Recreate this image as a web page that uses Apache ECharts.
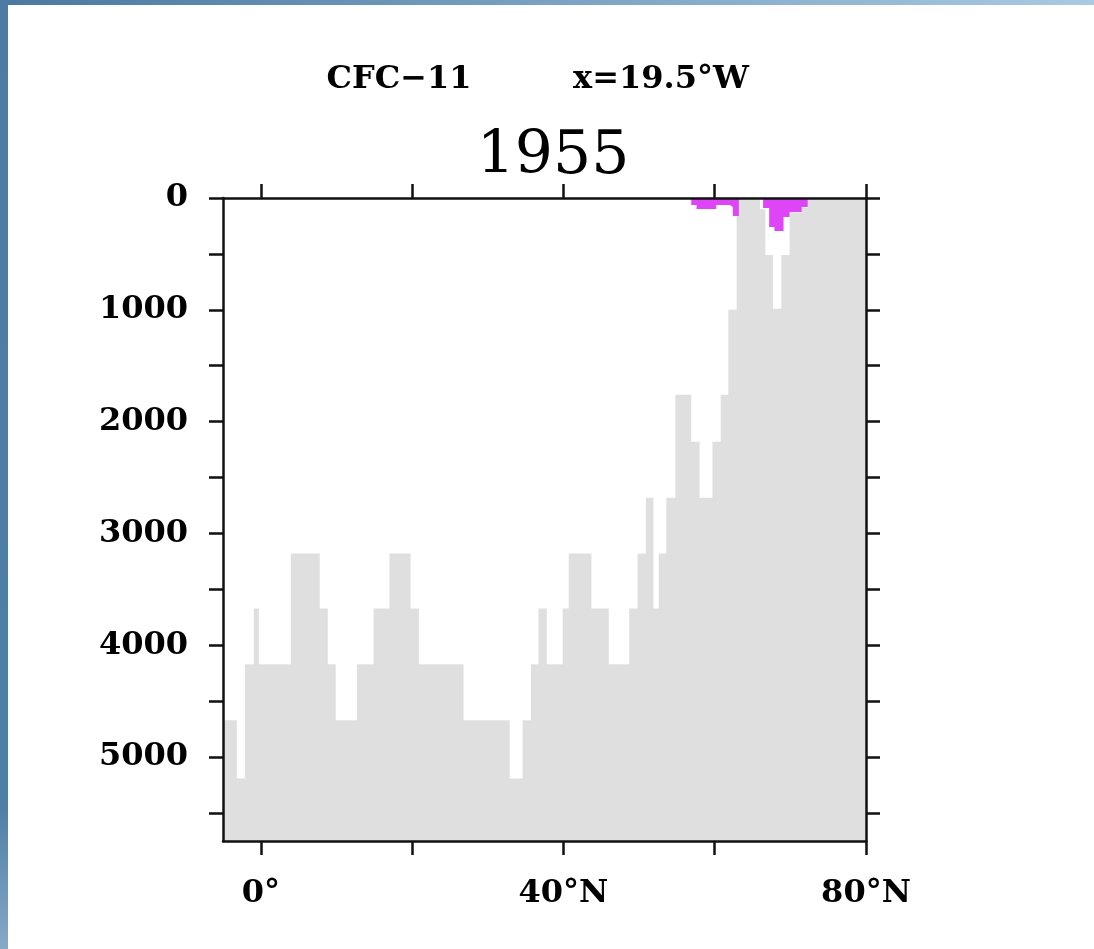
<!DOCTYPE html>
<html>
<head>
<meta charset="utf-8">
<script src="https://cdn.jsdelivr.net/npm/echarts@6/dist/echarts.min.js"></script>
<style>
  html, body { margin: 0; padding: 0; background: #fff; }
  #chart { width: 1094px; height: 949px; }
</style>
</head>
<body>
<div id="chart"></div>
<script>
// section along x=19.5W, latitude in degrees north, depth in metres
var floorLat = [-5, -3.17, -2.11, -0.92, -0.26, 3.96, 7.79, 8.85, 9.9, 12.7,
  14.9, 17.0, 19.8, 20.9, 26.8, 32.9, 34.6, 35.7, 36.7, 37.8,
  39.9, 40.7, 43.7, 46.0, 48.7, 49.8, 50.9, 51.9, 52.6, 53.6,
  54.8, 56.9, 58.0, 59.7, 60.8, 61.8, 62.9, 63.2, 66.0, 66.7,
  67.7, 68.8, 69.9, 71.5, 72.3];
var floorDepth = [4670, 5190, 4170, 3670, 4170, 3180, 3670, 4170, 4670, 4170,
  3670, 3180, 3670, 4170, 4670, 5190, 4670, 4170, 3670, 4170,
  3670, 3180, 3670, 4170, 3670, 3180, 2680, 3670, 3180, 2680,
  1760, 2180, 2680, 2180, 1760, 1000, 160, 0, 100, 510,
  990, 510, 130, 90, 0];

// CFC-11 penetration depth (coloured patch from the surface down)
var cfcLat = [-5, 56.9, 57.6, 60.2, 62.0, 62.4, 63.2, 66.4, 67.2, 67.9, 69.1, 69.9, 71.5, 72.3];
var cfcDepth = [0, 63, 98, 63, 80, 160, 0, 89, 260, 295, 170, 125, 80, 0];

var latTicks = [0, 20, 40, 60, 80];
var latLabels = [0, 40, 80];
var depthTicks = [0, 500, 1000, 1500, 2000, 2500, 3000, 3500, 4000, 4500, 5000, 5500];
var depthLabels = [0, 1000, 2000, 3000, 4000, 5000];

function stepData(xs, ys, xEnd) {
  var out = xs.map(function (x, i) { return [x, ys[i]]; });
  out.push([xEnd, ys[ys.length - 1]]);
  return out;
}

var chart = echarts.init(document.getElementById('chart'));

var labelFont = {
  color: '#000',
  fontFamily: 'DejaVu Serif',
  fontWeight: 'bold',
  fontSize: 32
};
var axisLine = { show: true, onZero: false, lineStyle: { color: '#111', width: 2.5 } };
var tickStyle = { color: '#111', width: 2.5 };

var option = {
  backgroundColor: '#fff',
  animation: false,
  grid: { left: 223, top: 198, width: 643, height: 643, containLabel: false },
  xAxis: [{
    type: 'value', position: 'bottom', min: -5, max: 80, z: 10,
    axisLine: axisLine,
    splitLine: { show: false },
    axisTick: { show: true, length: 14, customValues: latTicks, lineStyle: tickStyle },
    axisLabel: Object.assign({
      margin: 37,
      customValues: latLabels,
      formatter: function (v) { return v === 0 ? '0°' : v + '°N'; }
    }, labelFont)
  }, {
    type: 'value', position: 'top', min: -5, max: 80, z: 10,
    axisLine: axisLine,
    splitLine: { show: false },
    axisTick: { show: true, length: 14, customValues: latTicks, lineStyle: tickStyle },
    axisLabel: { show: false }
  }],
  yAxis: [{
    type: 'value', position: 'left', inverse: true, min: 0, max: 5750, z: 10,
    axisLine: axisLine,
    splitLine: { show: false },
    axisTick: { show: true, length: 14, customValues: depthTicks, lineStyle: tickStyle },
    axisLabel: Object.assign({
      margin: 35,
      customValues: depthLabels,
      formatter: function (v) { return String(v); }
    }, labelFont)
  }, {
    type: 'value', position: 'right', inverse: true, min: 0, max: 5750, z: 10,
    axisLine: axisLine,
    splitLine: { show: false },
    axisTick: { show: true, length: 14, customValues: depthTicks, lineStyle: tickStyle },
    axisLabel: { show: false }
  }],
  series: [{
    name: 'bottom',
    type: 'line',
    step: 'end',
    symbol: 'none',
    data: stepData(floorLat, floorDepth, 80),
    lineStyle: { width: 0, opacity: 0 },
    areaStyle: { color: '#dfdfdf', opacity: 1, origin: 'end' },
    z: 1
  }, {
    name: 'CFC-11',
    type: 'line',
    step: 'end',
    symbol: 'none',
    data: stepData(cfcLat, cfcDepth, 80),
    lineStyle: { width: 0, opacity: 0 },
    areaStyle: { color: '#de45f7', opacity: 1, origin: 'start' },
    z: 2
  }],
  graphic: [{
    type: 'rect', z: 100,
    shape: { x: 0, y: 0, width: 1094, height: 5 },
    style: { fill: new echarts.graphic.LinearGradient(0, 0, 1, 0, [
      { offset: 0, color: '#4a78a0' }, { offset: 1, color: '#a9cae3' }]) }
  }, {
    type: 'rect', z: 100,
    shape: { x: 0, y: 0, width: 8, height: 949 },
    style: { fill: new echarts.graphic.LinearGradient(0, 0, 0, 1, [
      { offset: 0, color: '#4d7ba3' }, { offset: 0.85, color: '#4f7ea6' }, { offset: 1, color: '#86a9c6' }]) }
  }, {
    type: 'text',
    style: { text: 'CFC−11', x: 399, y: 80, align: 'center', verticalAlign: 'middle',
      font: 'bold 32px "DejaVu Serif"', fill: '#000' }
  }, {
    type: 'text',
    style: { text: 'x=19.5°W', x: 661, y: 80, align: 'center', verticalAlign: 'middle',
      font: 'bold 32px "DejaVu Serif"', fill: '#000' }
  }, {
    type: 'text',
    style: { text: '1955', x: 553, y: 157, align: 'center', verticalAlign: 'middle',
      font: '60px "DejaVu Serif"', fill: '#000' }
  }]
};

chart.setOption(option);
</script>
</body>
</html>
